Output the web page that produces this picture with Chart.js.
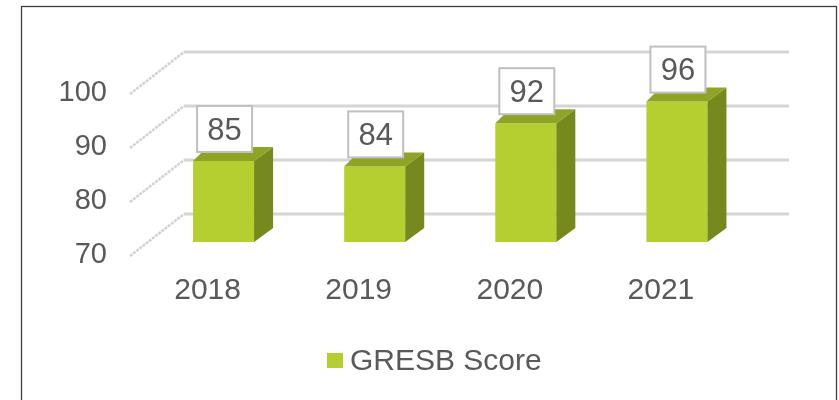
<!DOCTYPE html>
<html>
<head>
<meta charset="utf-8">
<script src="https://cdn.jsdelivr.net/npm/chart.js@4"></script>
<style>
html,body{margin:0;padding:0;background:#fff;}
#wrap{width:839px;height:400px;position:relative;}
</style>
</head>
<body>
<div id="wrap"><canvas id="c" width="839" height="400"></canvas></div>
<script>
const categories = ['2018', '2019', '2020', '2021'];
const scores = [85, 84, 92, 96];
const yTicks = [70, 80, 90, 100];
const seriesName = 'GRESB Score';

const FONT = '"Liberation Sans", Arial, sans-serif';
const TEXT = '#595959';
const FRONT = '#b5cf31';
const TOP = '#8ea427';
const SIDE = '#76891e';

const depth3d = {
  id: 'depth3d',
  beforeDatasetsDraw(chart) {
    const ctx = chart.ctx, ca = chart.chartArea, y = chart.scales.y;
    ctx.save();
    // outer border
    ctx.strokeStyle = '#404040';
    ctx.lineWidth = 1.3;
    ctx.strokeRect(21.5, 6.5, 815, 420);
    yTicks.forEach(v => {
      const py = y.getPixelForValue(v);
      // back wall gridline
      ctx.strokeStyle = '#d5d5d5';
      ctx.lineWidth = 3;
      ctx.setLineDash([]);
      ctx.beginPath();
      ctx.moveTo(ca.left + 36, py - 28);
      ctx.lineTo(ca.right + 36.5, py - 28);
      ctx.stroke();
      // side wall diagonal
      ctx.strokeStyle = '#d2d2d2';
      ctx.lineWidth = 2.5;
      ctx.setLineDash([3, 1]);
      ctx.beginPath();
      ctx.moveTo(ca.left - 18, py + 14);
      ctx.lineTo(ca.left + 36, py - 28);
      ctx.stroke();
      // tick label
      ctx.setLineDash([]);
      ctx.fillStyle = TEXT;
      ctx.font = '29px ' + FONT;
      ctx.textAlign = 'right';
      ctx.textBaseline = 'middle';
      ctx.fillText(String(v), ca.left - 41, py + 13);
    });
    ctx.restore();
  },
  afterDatasetsDraw(chart) {
    const ctx = chart.ctx, ca = chart.chartArea, y = chart.scales.y;
    const meta = chart.getDatasetMeta(0);
    ctx.save();
    meta.data.forEach((bar, i) => {
      const l = bar.x - bar.width / 2, r = bar.x + bar.width / 2;
      const t = bar.y, b = y.getPixelForValue(y.min);
      const dxl = 14, dxr = 19, dy = 14;
      // side face
      ctx.fillStyle = SIDE;
      ctx.beginPath();
      ctx.moveTo(r, t); ctx.lineTo(r + dxr, t - dy); ctx.lineTo(r + dxr, b - dy); ctx.lineTo(r, b);
      ctx.closePath(); ctx.fill();
      // top face
      ctx.fillStyle = TOP;
      ctx.beginPath();
      ctx.moveTo(l, t); ctx.lineTo(l + dxl, t - dy); ctx.lineTo(r + dxr, t - dy); ctx.lineTo(r, t);
      ctx.closePath(); ctx.fill();
      // data label box
      const bw = 55, bh = 46;
      const cx = bar.x + 1, by = t - 9 - bh;
      ctx.fillStyle = '#ffffff';
      ctx.fillRect(cx - bw / 2, by, bw, bh);
      ctx.strokeStyle = '#c0c0c0';
      ctx.lineWidth = 2;
      ctx.strokeRect(cx - bw / 2, by, bw, bh);
      ctx.fillStyle = TEXT;
      ctx.font = '31px ' + FONT;
      ctx.textAlign = 'center';
      ctx.textBaseline = 'middle';
      ctx.fillText(String(scores[i]), cx, by + bh / 2 + 2);
      // category label
      ctx.font = '30px ' + FONT;
      ctx.fillText(categories[i], bar.x - 16, ca.bottom + 49);
    });
    // legend
    const ds = chart.data.datasets[0];
    ctx.fillStyle = FRONT;
    ctx.fillRect(327, 353, 16, 15);
    ctx.fillStyle = TEXT;
    ctx.font = '30px ' + FONT;
    ctx.textAlign = 'left';
    ctx.textBaseline = 'middle';
    ctx.fillText(ds.label, 350, 362);
    ctx.restore();
  }
};

new Chart(document.getElementById('c'), {
  type: 'bar',
  data: {
    labels: categories,
    datasets: [{
      label: seriesName,
      data: scores,
      backgroundColor: FRONT,
      borderWidth: 0,
      categoryPercentage: 1,
      barPercentage: 0.404
    }]
  },
  options: {
    responsive: false,
    animation: false,
    devicePixelRatio: 1,
    layout: { padding: { left: 148, right: 86.5, top: 80, bottom: 158 } },
    plugins: { legend: { display: false }, tooltip: { enabled: false } },
    scales: {
      x: { display: false },
      y: { display: false, min: 70, max: 100, ticks: { stepSize: 10 } }
    }
  },
  plugins: [depth3d]
});
</script>
</body>
</html>
